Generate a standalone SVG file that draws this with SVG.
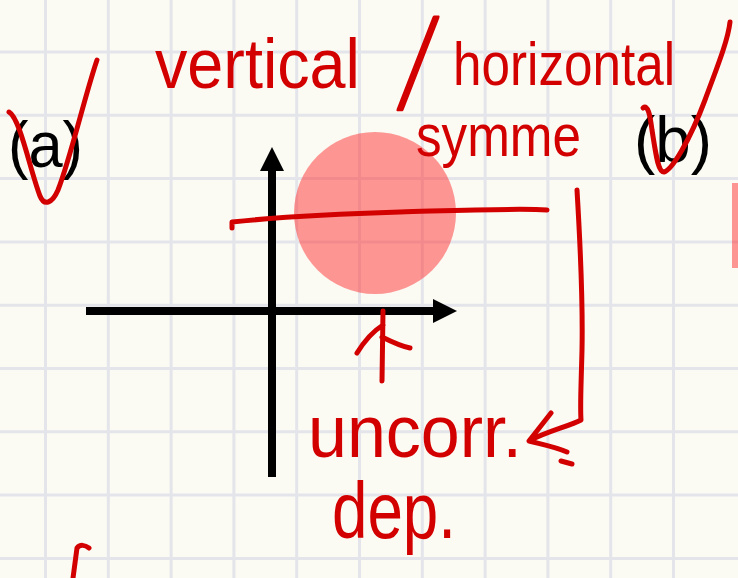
<svg xmlns="http://www.w3.org/2000/svg" width="738" height="578" viewBox="0 0 738 578">
<style>
.grid line{stroke:#e4e5ea;stroke-width:3}
.ax{stroke:#000;stroke-width:8;fill:none}
.ink{stroke:#d30000;stroke-width:5;fill:none;stroke-linecap:round;stroke-linejoin:round}
.hw{font-family:"Liberation Sans",Arial,sans-serif;fill:#d30000}
.lbl{font-family:"Liberation Sans",Arial,sans-serif;fill:#000;font-size:64px}
</style>
<rect width="738" height="578" fill="#fbfbf4"/>
<g class="grid" id="grid">
<line x1="45.5" y1="0" x2="45.5" y2="578"/><line x1="108.3" y1="0" x2="108.3" y2="578"/><line x1="171.1" y1="0" x2="171.1" y2="578"/><line x1="233.9" y1="0" x2="233.9" y2="578"/><line x1="296.7" y1="0" x2="296.7" y2="578"/><line x1="359.5" y1="0" x2="359.5" y2="578"/><line x1="422.3" y1="0" x2="422.3" y2="578"/><line x1="485.1" y1="0" x2="485.1" y2="578"/><line x1="547.9" y1="0" x2="547.9" y2="578"/><line x1="610.7" y1="0" x2="610.7" y2="578"/><line x1="673.5" y1="0" x2="673.5" y2="578"/>
<line x1="0" y1="52" x2="738" y2="52"/><line x1="0" y1="115.3" x2="738" y2="115.3"/><line x1="0" y1="178.6" x2="738" y2="178.6"/><line x1="0" y1="241.9" x2="738" y2="241.9"/><line x1="0" y1="305.2" x2="738" y2="305.2"/><line x1="0" y1="368.5" x2="738" y2="368.5"/><line x1="0" y1="431.8" x2="738" y2="431.8"/><line x1="0" y1="495.1" x2="738" y2="495.1"/><line x1="0" y1="558.4" x2="738" y2="558.4"/>
</g>
<g id="circle"><circle cx="375" cy="213" r="81" fill="#ff3030" opacity="0.5"/></g>
<g id="edge-rect"><rect x="732" y="183" width="8" height="85" fill="#ff3030" opacity="0.5"/></g>
<g id="axes">
<line class="ax" x1="272" y1="168" x2="272" y2="477"/>
<polygon points="272,147 284,171 260,171" fill="#000"/>
<line class="ax" x1="86" y1="311" x2="435" y2="311"/>
<polygon points="457,311 433,299 433,323" fill="#000"/>
</g>
<g id="label-a"><text class="lbl" x="8" y="167" textLength="75" lengthAdjust="spacingAndGlyphs">(a)</text></g>
<g id="label-b"><text class="lbl" x="634" y="162" textLength="78" lengthAdjust="spacingAndGlyphs">(b)</text></g>
<g id="notes">
<text class="hw" x="155" y="88" font-size="70" textLength="205" lengthAdjust="spacingAndGlyphs">vertical</text>
<text class="hw" x="0" y="0" font-size="64" stroke="#d30000" stroke-width="2.2" stroke-linejoin="round" transform="translate(398,108) skewX(-14) scale(1,1.95)">/</text>
<text class="hw" x="453" y="85" font-size="62" textLength="222" lengthAdjust="spacingAndGlyphs">horizontal</text>
<text class="hw" x="416" y="156" font-size="60" textLength="165" lengthAdjust="spacingAndGlyphs">symme</text>
<text class="hw" x="308" y="457" font-size="74" textLength="214" lengthAdjust="spacingAndGlyphs">uncorr.</text>
<text class="hw" x="332" y="538" font-size="80" textLength="124" lengthAdjust="spacingAndGlyphs">dep.</text>
</g>
<g id="connectors">
<path class="ink" d="M9,112 C20,118 30,170 40,196 C44,206 52,204 58,190 C70,160 85,95 97,60"/>
<path class="ink" d="M643,108 C648,104 650,115 652,130 C656,155 658,172 664,172 C672,170 690,140 705,100 C718,65 728,40 730,22"/>
<path class="ink" d="M232,228 L232,222 C270,218 330,214 400,212 C470,210 520,208 547,210"/>
<path class="ink" d="M577,190 C580,240 583,300 582,350 C581,390 580,405 581,420 C570,426 545,432 529,441 L551,413 M529,441 C545,445 556,447 567,452 M561,461 L572,464"/>
<path class="ink" d="M383,311 L382,381 M357,353 C365,340 375,330 383,325 M382,337 C392,342 400,346 410,348"/>
<path class="ink" d="M73,578 L77,548 C80,544 85,545 89,548"/>
</g>
</svg>
